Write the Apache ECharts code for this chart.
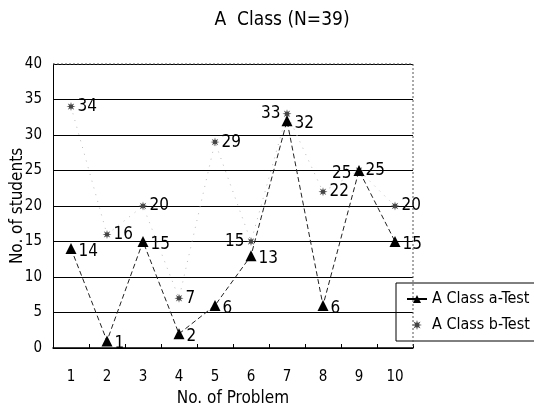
<!DOCTYPE html>
<html><head><meta charset="utf-8">
<script src="https://cdn.jsdelivr.net/npm/echarts@6/dist/echarts.min.js"></script>
<style>html,body{margin:0;padding:0;background:#fff}#c{width:534px;height:411px}</style>
</head><body><div id="c"></div>
<script>
var categories = ['1','2','3','4','5','6','7','8','9','10'];
var aTest = [14, 1, 15, 2, 6, 13, 32, 6, 25, 15];
var bTest = [34, 16, 20, 7, 29, 15, 33, 22, 25, 20];
var bLeftLabels = [5, 6];
var aLeftLabels = [8];

var FONT = '"Liberation Sans Narrow", "DejaVu Sans Condensed", "Liberation Sans", Arial, sans-serif';
var star = 'path://M0,-10 L1.6,-3.9 L7.1,-7.1 L3.9,-1.6 L10,0 L3.9,1.6 L7.1,7.1 L1.6,3.9 L0,10 L-1.6,3.9 L-7.1,7.1 L-3.9,1.6 L-10,0 L-3.9,-1.6 L-7.1,-7.1 L-1.6,-3.9 Z';

function mk(arr, leftIdx) {
  return arr.map(function (v, i) {
    var o = { value: v };
    if (leftIdx.indexOf(i) >= 0) o.label = { position: 'left', distance: 2 };
    return o;
  });
}

var chart = echarts.init(document.getElementById('c'));
chart.setOption({
  animation: false,
  backgroundColor: '#fff',
  textStyle: { fontFamily: FONT, color: '#000' },
  title: {
    text: 'A  Class (N=39)', left: 277, top: 6, textAlign: 'center',
    textStyle: { fontFamily: FONT, fontSize: 19, fontWeight: 'normal', color: '#000' }
  },
  grid: { left: 53, top: 64, width: 360, height: 284, containLabel: false, outerBoundsMode: 'none' },
  legend: {
    orient: 'vertical', left: 396, top: 283, width: 160,
    borderColor: '#000', borderWidth: 1, padding: [8, 30, 8, 10],
    itemGap: 10, itemWidth: 20, itemHeight: 10,
    textStyle: { fontFamily: FONT, fontSize: 16, color: '#000' },
    data: [
      { name: 'A Class a-Test', itemStyle: { color: '#000' }, lineStyle: { color: '#000', type: 'solid' } },
      { name: 'A Class b-Test', icon: star, itemStyle: { color: '#444' }, lineStyle: { opacity: 0 } }
    ]
  },
  xAxis: {
    type: 'category', data: categories, boundaryGap: true,
    name: 'No. of Problem', nameLocation: 'middle', nameGap: 42,
    nameTextStyle: { fontFamily: FONT, fontSize: 17, color: '#000' },
    axisLine: { lineStyle: { color: '#000', width: 1.5 } },
    axisTick: { show: true, inside: true, length: 4, lineStyle: { color: '#000' } },
    axisLabel: { margin: 22, fontFamily: FONT, fontSize: 15, color: '#000' },
    splitLine: { show: false }
  },
  yAxis: {
    type: 'value', min: 0, max: 40, interval: 5,
    name: 'No. of students', nameLocation: 'middle', nameGap: 27, nameMoveOverlap: false,
    nameTextStyle: { fontFamily: FONT, fontSize: 17, color: '#000' },
    axisLine: { show: true, lineStyle: { color: '#000', width: 1 } },
    axisTick: { show: false },
    axisLabel: { margin: 11, fontFamily: FONT, fontSize: 15, color: '#000' },
    splitLine: { show: true, lineStyle: { color: '#000', width: 1.2 } }
  },
  graphic: [
    { type: 'line', shape: { x1: 53, y1: 64, x2: 413, y2: 64 }, style: { stroke: '#555', lineWidth: 1, lineDash: [2, 2] }, z: 10 },
    { type: 'line', shape: { x1: 413, y1: 64, x2: 413, y2: 348 }, style: { stroke: '#555', lineWidth: 1, lineDash: [2, 2] }, z: 10 }
  ],
  series: [
    {
      name: 'A Class a-Test', type: 'line', data: mk(aTest, aLeftLabels),
      symbol: 'triangle', symbolSize: 11,
      itemStyle: { color: '#000' },
      lineStyle: { color: '#222', width: 1, type: [5, 3] },
      label: { show: true, position: 'right', distance: 2, fontFamily: FONT, fontSize: 17, color: '#000', offset: [0, 3] },
      z: 3
    },
    {
      name: 'A Class b-Test', type: 'line', data: mk(bTest, bLeftLabels),
      symbol: star, symbolSize: 9,
      itemStyle: { color: '#444' },
      lineStyle: { color: '#bbb', width: 1, type: [1, 6] },
      label: { show: true, position: 'right', distance: 2, fontFamily: FONT, fontSize: 17, color: '#000' },
      z: 2
    }
  ]
});
</script></body></html>
